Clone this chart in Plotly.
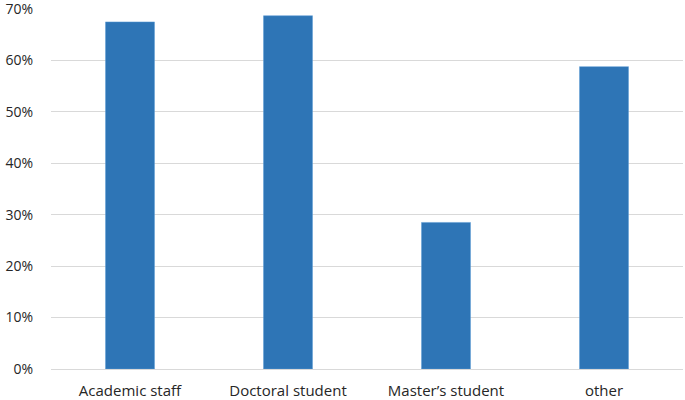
import plotly.graph_objects as go

categories = ["Academic staff", "Doctoral student", "Master\u2019s student", "other"]
values = [0.675, 0.687, 0.285, 0.588]
y_ticks = [0, 0.1, 0.2, 0.3, 0.4, 0.5, 0.6, 0.7]

fig = go.Figure(go.Bar(
    x=categories, y=values,
    marker=dict(color="#2E75B6", line=dict(color="#5B9BD5", width=0.5)),
))

fig.update_layout(
    width=685, height=400,
    margin=dict(l=51, r=2, t=9, b=31),
    paper_bgcolor="white", plot_bgcolor="white",
    bargap=0.69,
    showlegend=False,
    font=dict(family="Open Sans, Noto Sans, sans-serif", size=14, color="#262626"),
)
fig.update_xaxes(showgrid=False, showline=False, ticks="", automargin=False,
                 ticklabelstandoff=11, tickfont=dict(size=15, color="#262626"))
fig.update_yaxes(range=[0, 0.7001], tickvals=y_ticks, tickformat=".0%", automargin=False,
                 ticklabeloverflow="allow",
                 showgrid=True, gridcolor="#D9D9D9", gridwidth=1,
                 zeroline=True, zerolinecolor="#D9D9D9", zerolinewidth=1,
                 ticks="", ticklabelstandoff=17, tickfont=dict(size=14, color="#262626"))

fig.write_html("out.html", config={"displayModeBar": False},
               post_script="document.body.style.margin='0';")
